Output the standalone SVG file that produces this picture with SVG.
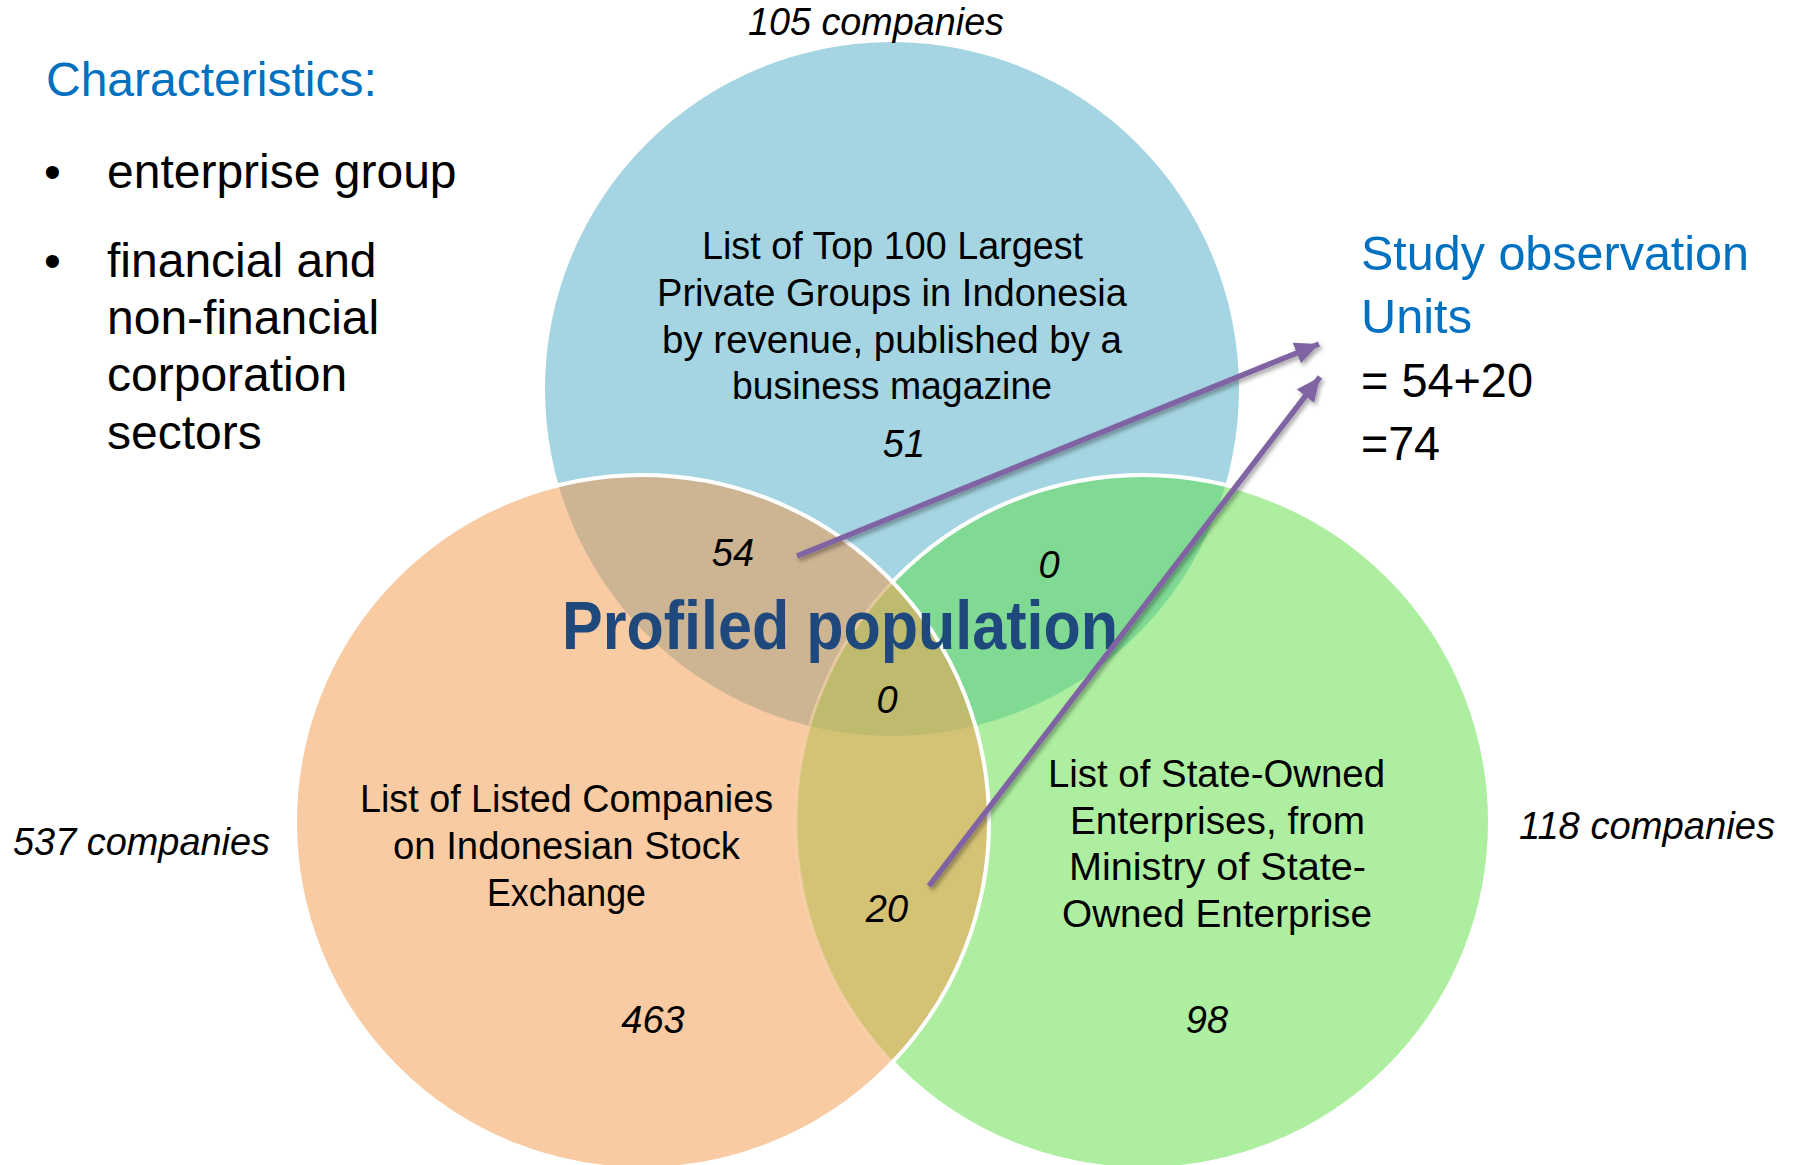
<svg xmlns="http://www.w3.org/2000/svg" width="1796" height="1165" viewBox="0 0 1796 1165">
<defs>
  <style>
    .lbl{font-family:"Liberation Sans",Arial,sans-serif;font-size:38px;fill:#000}
    .num{font-family:"Liberation Sans",Arial,sans-serif;font-size:38px;font-style:italic;fill:#000;text-anchor:middle}
    .cnt{font-family:"Liberation Sans",Arial,sans-serif;font-size:38px;font-style:italic;fill:#000}
    .side{font-family:"Liberation Sans",Arial,sans-serif;font-size:48px;fill:#000}
    .blue{fill:#0070C0}
    .arrow{stroke:#8064A2;stroke-width:5.5;fill:none;marker-end:url(#ah);filter:url(#sh)}
  </style>
  <clipPath id="cB"><circle cx="892" cy="389" r="347"/></clipPath>
  <clipPath id="cO"><circle cx="642" cy="822" r="347"/></clipPath>
  <clipPath id="cG"><circle cx="1143" cy="822" r="347"/></clipPath>
  <marker id="ah" markerUnits="userSpaceOnUse" markerWidth="28" markerHeight="26" refX="24" refY="11" orient="auto">
    <path d="M0,0 L24,11 L0,22 Z" fill="#8064A2"/>
  </marker>
  <filter id="sh" x="-10%" y="-10%" width="120%" height="120%">
    <feDropShadow dx="2" dy="3" stdDeviation="2" flood-color="#000" flood-opacity="0.35"/>
  </filter>
</defs>
<rect width="1796" height="1165" fill="#fff"/>

<g id="venn">
  <circle id="set-top100" cx="892" cy="389" r="347" fill="#A5D5E2"/>
  <circle id="set-soe" cx="1143" cy="822" r="347" fill="#AEEEA0"/>
  <g clip-path="url(#cG)"><circle cx="892" cy="389" r="347" fill="#80DA94"/></g>
  <circle cx="1143" cy="822" r="347" fill="none" stroke="#fff" stroke-width="4"/>
  <circle id="set-listed" cx="642" cy="822" r="347" fill="#F8CBA3"/>
  <g clip-path="url(#cO)"><circle cx="892" cy="389" r="347" fill="#CDB493"/></g>
  <g clip-path="url(#cO)"><circle cx="1143" cy="822" r="347" fill="#D4C275"/></g>
  <g clip-path="url(#cG)"><g clip-path="url(#cO)"><circle cx="892" cy="389" r="347" fill="#BEBA6E"/></g></g>
  <g clip-path="url(#cO)"><circle cx="1143" cy="822" r="347" fill="none" stroke="#FAD3B0" stroke-width="3" opacity="0.6"/></g>
  <circle cx="642" cy="822" r="347" fill="none" stroke="#fff" stroke-width="4"/>
</g>

<g id="node-top100">
  <text class="lbl" x="702" y="259" textLength="381" lengthAdjust="spacingAndGlyphs">List of Top 100 Largest</text>
  <text class="lbl" x="657" y="306" textLength="470" lengthAdjust="spacingAndGlyphs">Private Groups in Indonesia</text>
  <text class="lbl" x="662" y="353" textLength="460" lengthAdjust="spacingAndGlyphs">by revenue, published by a</text>
  <text class="lbl" x="732" y="399" textLength="320" lengthAdjust="spacingAndGlyphs">business magazine</text>
  <text class="num" x="904" y="457">51</text>
  <text class="cnt" x="748" y="35" textLength="256" lengthAdjust="spacingAndGlyphs">105 companies</text>
</g>

<g id="node-listed">
  <text class="lbl" x="360" y="812" textLength="413" lengthAdjust="spacingAndGlyphs">List of Listed Companies</text>
  <text class="lbl" x="393" y="859" textLength="347" lengthAdjust="spacingAndGlyphs">on Indonesian Stock</text>
  <text class="lbl" x="487" y="906" textLength="159" lengthAdjust="spacingAndGlyphs">Exchange</text>
  <text class="num" x="653" y="1033">463</text>
  <text class="cnt" x="13" y="855" textLength="257" lengthAdjust="spacingAndGlyphs">537 companies</text>
</g>

<g id="node-soe">
  <text class="lbl" x="1048" y="787" textLength="337" lengthAdjust="spacingAndGlyphs">List of State-Owned</text>
  <text class="lbl" x="1070" y="834" textLength="295" lengthAdjust="spacingAndGlyphs">Enterprises, from</text>
  <text class="lbl" x="1069" y="880" textLength="297" lengthAdjust="spacingAndGlyphs">Ministry of State-</text>
  <text class="lbl" x="1062" y="927" textLength="310" lengthAdjust="spacingAndGlyphs">Owned Enterprise</text>
  <text class="num" x="1207" y="1033">98</text>
  <text class="cnt" x="1519" y="839" textLength="256" lengthAdjust="spacingAndGlyphs">118 companies</text>
</g>

<g id="node-overlaps">
  <text class="num" x="733" y="566">54</text>
  <text class="num" x="1049" y="578">0</text>
  <text class="num" x="887" y="713">0</text>
  <text class="num" x="887" y="922">20</text>
</g>

<g id="node-profiled">
  <text x="562" y="649" textLength="556" lengthAdjust="spacingAndGlyphs" style="font-family:'Liberation Sans',Arial,sans-serif;font-size:68px;font-weight:bold;fill:#1F497D">Profiled population</text>
</g>

<g id="node-characteristics">
  <text x="46" y="96" class="blue" style="font-family:'Liberation Sans',Arial,sans-serif;font-size:48px">Characteristics:</text>
  <text class="side" x="44" y="188">•</text>
  <text class="side" x="107" y="188">enterprise group</text>
  <text class="side" x="44" y="277">•</text>
  <text class="side" x="107" y="277">financial and</text>
  <text class="side" x="107" y="334">non-financial</text>
  <text class="side" x="107" y="391">corporation</text>
  <text class="side" x="107" y="449">sectors</text>
</g>

<g id="node-study">
  <text class="side blue" x="1361" y="270" textLength="388" lengthAdjust="spacingAndGlyphs">Study observation</text>
  <text class="side blue" x="1361" y="333" textLength="111" lengthAdjust="spacingAndGlyphs">Units</text>
  <text class="side" x="1361" y="397" textLength="172" lengthAdjust="spacingAndGlyphs">= 54+20</text>
  <text class="side" x="1361" y="460" textLength="79" lengthAdjust="spacingAndGlyphs">=74</text>
</g>

<g id="connectors">
  <line class="arrow" x1="797" y1="556" x2="1319" y2="344"/>
  <line class="arrow" x1="929" y1="886" x2="1320" y2="377"/>
</g>
</svg>
